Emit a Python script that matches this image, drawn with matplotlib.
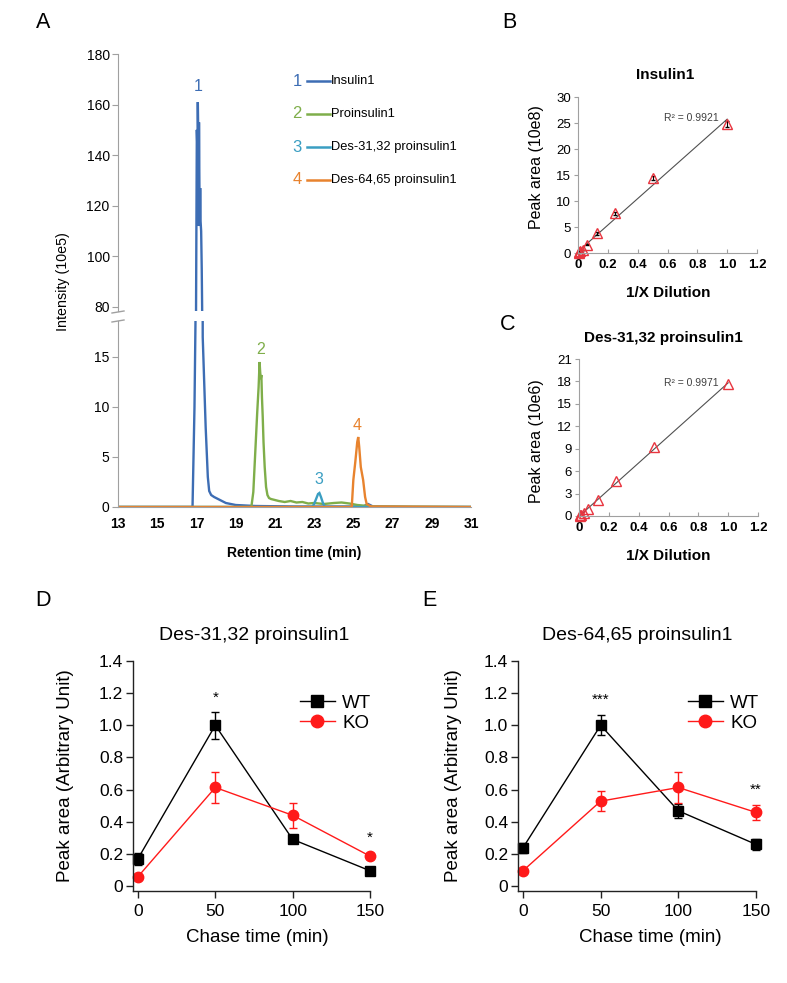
import matplotlib
matplotlib.use('Agg')
import matplotlib.pyplot as plt
import numpy as np
from matplotlib.lines import Line2D

plt.rcParams['font.family'] = ['Liberation Sans', 'DejaVu Sans']

# ---------------- data ----------------
# Panel A: chromatogram traces (retention time in min, intensity in 10e5)
t_ins = [13.0, 16.0, 16.8, 16.9, 16.96, 16.98, 17.02, 17.05, 17.07, 17.09, 17.11, 17.13, 17.15, 17.17,
         17.19, 17.21, 17.24, 17.27, 17.29, 17.32, 17.47, 17.58, 17.65, 17.75, 17.9, 18.0, 18.2, 18.5,
         19.0, 20.0, 22.0, 25.5, 25.75, 26.0, 28.0, 31.0]
i_ins = [0.0, 0.0, 0.0, 10.0, 20.0, 80.0, 150.0, 142.0, 161.0, 150.0, 112.0, 153.0, 130.0, 112.0,
         127.0, 114.0, 110.0, 95.0, 80.0, 17.0, 8.0, 3.0, 1.6, 1.2, 1.0, 0.9, 0.7, 0.4,
         0.2, 0.1, 0.05, 0.05, 0.3, 0.05, 0.0, 0.0]

t_pro = [13.0, 19.8, 19.9, 20.0, 20.1, 20.17, 20.22, 20.25, 20.28, 20.31, 20.34, 20.38, 20.42, 20.48,
         20.55, 20.62, 20.7, 20.8, 21.0, 21.2, 21.5, 21.8, 22.1, 22.4, 22.7, 23.0, 23.5, 24.0, 24.4,
         24.8, 25.2, 26.0, 31.0]
i_pro = [0.0, 0.0, 1.5, 5.5, 9.5, 12.0, 14.5, 13.5, 12.8, 13.2, 11.0, 9.0, 6.5, 4.0,
         2.0, 1.2, 0.9, 0.8, 0.7, 0.6, 0.5, 0.6, 0.45, 0.5, 0.35, 0.4, 0.3, 0.4, 0.45,
         0.35, 0.2, 0.05, 0.0]

t_d31 = [13.0, 22.9, 23.0, 23.1, 23.2, 23.27, 23.35, 23.45, 23.55, 31.0]
i_d31 = [0.0, 0.0, 0.3, 0.8, 1.3, 1.4, 1.0, 0.4, 0.0, 0.0]

t_d64 = [13.0, 24.92, 25.0, 25.1, 25.2, 25.25, 25.3, 25.38, 25.5, 25.6, 25.68, 25.9, 31.0]
i_d64 = [0.0, 0.0, 2.7, 4.5, 6.5, 7.0, 6.0, 4.0, 2.7, 1.0, 0.3, 0.05, 0.0]

trace_names = ['Insulin1', 'Proinsulin1', 'Des-31,32 proinsulin1', 'Des-64,65 proinsulin1']
trace_nums = ['1', '2', '3', '4']
peak_label_pos = [(17.1, 167.0), (20.25, 15.8), (23.25, 2.7), (25.2, 8.1)]

# Panels B, C: calibration (1/X dilution vs peak area)
dilution = [1.0, 0.5, 0.25, 0.125, 0.0625, 0.03125, 0.0156, 0.0078, 0.0039]
area_ins = [24.8, 14.4, 7.6, 3.8, 1.6, 0.6, 0.3, 0.15, 0.05]
err_ins = [0.5, 0.35, 0.3, 0.25, 0.1, 0.05, 0.05, 0.03, 0.02]
area_d31 = [17.6, 9.2, 4.7, 2.2, 0.9, 0.4, 0.15, 0.08, 0.03]
r2_ins = 'R\u00b2 = 0.9921'
r2_d31 = 'R\u00b2 = 0.9971'

# Panels D, E: chase time course
chase = [0, 50, 100, 150]
d_wt = [0.17, 1.0, 0.29, 0.095]
d_wt_err = [0.038, 0.083, 0.01, 0.01]
d_ko = [0.058, 0.613, 0.44, 0.186]
d_ko_err = [0.01, 0.096, 0.076, 0.02]
d_stars = [(50, 1.17, '*'), (150, 0.30, '*')]

e_wt = [0.238, 1.0, 0.468, 0.259]
e_wt_err = [0.03, 0.062, 0.043, 0.036]
e_ko = [0.095, 0.528, 0.613, 0.458]
e_ko_err = [0.01, 0.062, 0.096, 0.045]
e_stars = [(50, 1.16, '***'), (150, 0.60, '**')]

# ---------------- figure ----------------
W, H = 787, 983
fig = plt.figure(figsize=(W / 100, H / 100), dpi=100)


def rect(l, t, r, b):
    return [l / W, 1 - b / H, (r - l) / W, (b - t) / H]


def fx(x):
    return x / W


def fy(y):
    return 1 - y / H


GREY = '#a0a0a0'
cols = ['#3d6db4', '#7fae4a', '#3a9ec2', '#e8832e']

# ----- Panel A -----
axT = fig.add_axes(rect(118, 54, 471, 311))
axB = fig.add_axes(rect(118, 321, 471, 507))
traces = [(t_ins, i_ins), (t_pro, i_pro), (t_d31, i_d31), (t_d64, i_d64)]
for ax in (axT, axB):
    for (t, i), c in zip(traces, cols):
        ax.plot(t, i, color=c, lw=1.7, solid_joinstyle='miter')
    ax.set_xlim(13, 31)
    for s in ('top', 'right'):
        ax.spines[s].set_visible(False)
    ax.spines['left'].set_color(GREY)
    ax.tick_params(axis='y', direction='out', length=4, color=GREY, labelsize=10, pad=2)
axT.set_ylim(78.4, 180)
axT.set_yticks([80, 100, 120, 140, 160, 180])
axT.spines['bottom'].set_visible(False)
axT.set_xticks([])
axB.set_ylim(0, 18.6)
axB.set_yticks([0, 5, 10, 15])
axB.spines['bottom'].set_color(GREY)
axB.set_xticks(list(range(13, 32, 2)))
axB.tick_params(axis='x', length=0, labelsize=10, pad=7)
for lab in axB.get_xticklabels():
    lab.set_fontweight('bold')

# break marks
for yy in (312, 321):
    fig.add_artist(Line2D([fx(112), fx(124)], [fy(yy + 1), fy(yy - 1)], color=GREY, lw=1))

# peak labels
for (px, py), n, c in zip(peak_label_pos, trace_nums, cols):
    ax = axT if py > 20 else axB
    ax.text(px, py, n, color=c, fontsize=11.5, ha='center', va='center', clip_on=False)

# legend in A
for k, (n, name, c) in enumerate(zip(trace_nums, trace_names, cols)):
    yy = 81 + k * 33
    fig.text(fx(297), fy(yy), n, color=c, fontsize=12, ha='center', va='center')
    fig.add_artist(Line2D([fx(307), fx(330)], [fy(yy), fy(yy)], color=c, lw=1.8))
    fig.text(fx(331), fy(yy), name, fontsize=9.3, ha='left', va='center')

fig.text(fx(63), fy(282), 'Intensity (10e5)', rotation=90, fontsize=10.3, ha='center', va='center')
fig.text(fx(294), fy(553), 'Retention time (min)', fontsize=10, fontweight='bold', ha='center', va='center')
fig.text(fx(43), fy(23), 'A', fontsize=15.5, ha='center', va='center')

# ----- Panels B and C -----
def calib(rc, y, err, ylim, yticks, title, tpos, ylab, ylpos, xlpos, r2, r2pos, letter, lpos):
    ax = fig.add_axes(rect(*rc))
    xs = np.array(dilution)
    ys = np.array(y)
    m, b = np.polyfit(xs, ys, 1)
    xl = np.array([0.0, 1.0])
    ax.plot(xl, m * xl + b, color='#505050', lw=0.8)
    if err is not None:
        ax.errorbar(xs, ys, yerr=err, fmt='none', ecolor='black', elinewidth=0.8, capsize=1.5, clip_on=False)
    ax.plot(xs, ys, linestyle='none', marker='^', mfc='none', mec='#e8353f', ms=6.5, mew=1.0, clip_on=False)
    ax.set_xlim(0, 1.2)
    ax.set_ylim(*ylim)
    ax.set_yticks(yticks)
    ax.set_xticks([0, 0.2, 0.4, 0.6, 0.8, 1.0, 1.2])
    ax.set_xticklabels(['0', '0.2', '0.4', '0.6', '0.8', '1.0', '1.2'])
    for s in ('top', 'right'):
        ax.spines[s].set_visible(False)
    for s in ('left', 'bottom'):
        ax.spines[s].set_color(GREY)
    ax.tick_params(axis='y', direction='out', length=3, color=GREY, labelsize=9.5, pad=2)
    ax.tick_params(axis='x', direction='in', length=3, color=GREY, labelsize=9.5, pad=4)
    for lab in ax.get_xticklabels():
        lab.set_fontweight('bold')
    fig.text(fx(tpos[0]), fy(tpos[1]), title, fontsize=11, fontweight='bold', ha='center', va='center')
    fig.text(fx(ylpos[0]), fy(ylpos[1]), ylab, rotation=90, fontsize=11.5, ha='center', va='center')
    fig.text(fx(xlpos[0]), fy(xlpos[1]), '1/X Dilution', fontsize=11, fontweight='bold', ha='center', va='center')
    fig.text(fx(r2pos[0]), fy(r2pos[1]), r2, fontsize=7.5, color='#404040', ha='left', va='center')
    fig.text(fx(lpos[0]), fy(lpos[1]), letter, fontsize=15.5, ha='center', va='center')
    return ax


calib((578, 97, 757, 253), area_ins, err_ins, (0, 30), [0, 5, 10, 15, 20, 25, 30], 'Insulin1', (665, 75),
      'Peak area (10e8)', (537, 167), (668, 293), r2_ins, (664, 118), 'B', (509, 23))
calib((579, 359, 758, 516), area_d31, None, (0, 21), [0, 3, 6, 9, 12, 15, 18, 21], 'Des-31,32 proinsulin1',
      (663, 338), 'Peak area (10e6)', (537, 441), (668, 556), r2_d31, (664, 383), 'C', (508, 325))

# ----- Panels D and E -----
KO_RED = '#ff1a1a'


def chase_panel(rc, wt, wt_err, ko, ko_err, stars, title, tpos, ylpos, xlpos, letter, lpos, legx):
    ax = fig.add_axes(rect(*rc))
    c1 = ax.errorbar(chase, wt, yerr=wt_err, fmt='-s', color='black', ecolor='black', lw=1.0,
                     elinewidth=1.0, capsize=3, capthick=1.0, ms=6.5)
    c2 = ax.errorbar(chase, ko, yerr=ko_err, fmt='-o', color=KO_RED, ecolor=KO_RED, lw=1.0,
                     elinewidth=1.0, capsize=3, capthick=1.0, ms=7.5)
    for cont in (c1, c2):
        for art in cont.get_children():
            art.set_clip_on(False)
    for sx, sy, st in stars:
        ax.text(sx, sy, st, fontsize=11, ha='center', va='center')
    ax.set_xlim(-3.2, 150)
    ax.set_ylim(-0.031, 1.4)
    ax.set_xticks(chase)
    ax.set_yticks([0, 0.2, 0.4, 0.6, 0.8, 1.0, 1.2, 1.4])
    ax.set_yticklabels(['0', '0.2', '0.4', '0.6', '0.8', '1.0', '1.2', '1.4'])
    for s in ('top', 'right'):
        ax.spines[s].set_visible(False)
    for s in ('left', 'bottom'):
        ax.spines[s].set_color('#222222')
        ax.spines[s].set_linewidth(1.0)
    ax.tick_params(direction='out', length=5, width=1, color='#222222', labelsize=12.5)
    ax.tick_params(axis='y', pad=2)
    ax.tick_params(axis='x', pad=4)
    handles = [Line2D([], [], color='black', marker='s', ms=8, lw=1.0),
               Line2D([], [], color=KO_RED, marker='o', ms=9, lw=1.0)]
    ax.legend(handles, ['WT', 'KO'], loc='center left', bbox_to_anchor=(fx(legx), fy(713)),
              bbox_transform=fig.transFigure, frameon=False, fontsize=13.5, handlelength=1.85,
              handletextpad=0.4, labelspacing=0.15, borderpad=0, borderaxespad=0)
    fig.text(fx(tpos[0]), fy(tpos[1]), title, fontsize=14, ha='center', va='center')
    fig.text(fx(ylpos[0]), fy(ylpos[1]), 'Peak area (Arbitrary Unit)', rotation=90, fontsize=13.5,
             ha='center', va='center')
    fig.text(fx(xlpos[0]), fy(xlpos[1]), 'Chase time (min)', fontsize=13.5, ha='center', va='center')
    fig.text(fx(lpos[0]), fy(lpos[1]), letter, fontsize=15.5, ha='center', va='center')
    return ax


chase_panel((133, 661, 370, 891), d_wt, d_wt_err, d_ko, d_ko_err, d_stars, 'Des-31,32 proinsulin1',
            (254, 636), (65, 776), (257, 937), 'D', (43, 600), 300)
chase_panel((518, 661, 756, 891), e_wt, e_wt_err, e_ko, e_ko_err, e_stars, 'Des-64,65 proinsulin1',
            (637, 636), (453, 776), (650, 937), 'E', (429, 600), 688)

fig.savefig('out.png', dpi=100)
